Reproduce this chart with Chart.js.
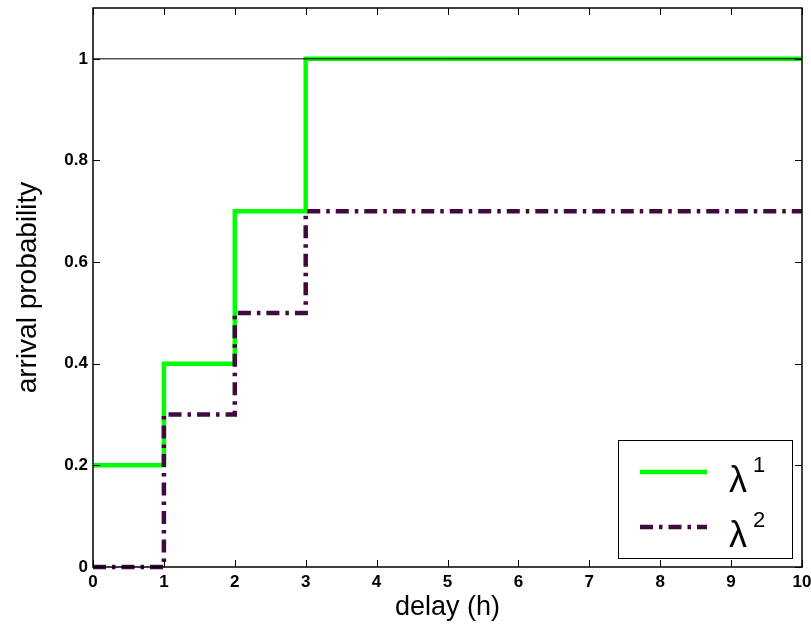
<!DOCTYPE html>
<html>
<head>
<meta charset="utf-8">
<script src="https://cdn.jsdelivr.net/npm/chart.js@4.4.1/dist/chart.umd.min.js"></script>
<style>
  html, body { margin: 0; padding: 0; background: #fff; }
  #wrap { width: 811px; height: 626px; }
</style>
</head>
<body>
<div id="wrap"><canvas id="c" width="811" height="626"></canvas></div>
<script>
// Delay (hours) at which each step starts
const delays = [0, 1, 2, 3, 10];
// Cumulative arrival probability for each rate
const lambda1 = [0.2, 0.4, 0.7, 1.0, 1.0];
const lambda2 = [0.0, 0.3, 0.5, 0.7, 0.7];
// Reference level at probability 1
const refDelays = [0, 10];
const refLevel = [1, 1];

const xTicks = [0, 1, 2, 3, 4, 5, 6, 7, 8, 9, 10];
const yTicks = [0, 0.2, 0.4, 0.6, 0.8, 1];
const yTickLabels = ['0', '0.2', '0.4', '0.6', '0.8', '1'];
const seriesNames = ['λ', 'λ'];
const seriesSup = ['1', '2'];

const GREEN = '#00ff00';
const PURPLE = '#400a40';
const DASHDOT = [13, 6, 3.5, 6];
const FONT = '"Liberation Sans", Arial, Helvetica, sans-serif';

const pts = (xs, ys) => xs.map((x, i) => ({ x: x, y: ys[i] }));

// Box with inward ticks on all four sides
const boxPlugin = {
  id: 'box',
  afterDatasetsDraw(chart) {
    const { ctx, chartArea: a, scales } = chart;
    ctx.save();
    ctx.strokeStyle = '#000';
    ctx.lineWidth = 1.5;
    ctx.strokeRect(a.left, a.top, a.right - a.left, a.bottom - a.top);
    ctx.lineWidth = 1;
    const L = 7;
    ctx.beginPath();
    xTicks.forEach(v => {
      const px = Math.round(scales.x.getPixelForValue(v)) + 0.5;
      ctx.moveTo(px, a.bottom); ctx.lineTo(px, a.bottom - L);
      ctx.moveTo(px, a.top); ctx.lineTo(px, a.top + L);
    });
    yTicks.forEach(v => {
      const py = Math.round(scales.y.getPixelForValue(v)) + 0.5;
      ctx.moveTo(a.left, py); ctx.lineTo(a.left + L, py);
      ctx.moveTo(a.right, py); ctx.lineTo(a.right - L, py);
    });
    ctx.stroke();
    ctx.restore();
  }
};

// Legend box in the lower right corner
const legendPlugin = {
  id: 'boxLegend',
  afterDraw(chart) {
    const { ctx } = chart;
    const bx = 618, by = 440, bw = 174, bh = 118;
    ctx.save();
    ctx.fillStyle = '#fff';
    ctx.fillRect(bx, by, bw, bh);
    ctx.strokeStyle = '#000';
    ctx.lineWidth = 1;
    ctx.strokeRect(bx + 0.5, by + 0.5, bw, bh);
    const rows = [472, 527];
    const ds = [chart.data.datasets[2], chart.data.datasets[1]];
    rows.forEach((y, i) => {
      ctx.beginPath();
      ctx.strokeStyle = ds[i].borderColor;
      ctx.lineWidth = ds[i].borderWidth;
      ctx.setLineDash(ds[i].borderDash || []);
      ctx.moveTo(640, y); ctx.lineTo(707, y);
      ctx.stroke();
      ctx.setLineDash([]);
      ctx.fillStyle = '#000';
      ctx.textBaseline = 'alphabetic';
      ctx.textAlign = 'left';
      ctx.font = '36px ' + FONT;
      ctx.fillText(seriesNames[i], 729, y + 20);
      ctx.font = '22px ' + FONT;
      ctx.fillText(seriesSup[i], 753, y);
    });
    ctx.restore();
  }
};

new Chart(document.getElementById('c'), {
  type: 'line',
  data: {
    datasets: [
      { label: 'ref', data: pts(refDelays, refLevel), borderColor: '#000', borderWidth: 1,
        pointRadius: 0, order: 0, clip: 6 },
      { label: 'λ2', data: pts(delays, lambda2), borderColor: PURPLE, borderWidth: 4.5,
        borderDash: DASHDOT, stepped: 'before', pointRadius: 0, order: 1, clip: 6,
        borderCapStyle: 'butt' },
      { label: 'λ1', data: pts(delays, lambda1), borderColor: GREEN, borderWidth: 4.5,
        stepped: 'before', pointRadius: 0, order: 2, clip: 6 }
    ]
  },
  options: {
    responsive: false,
    animation: false,
    layout: { padding: { top: 8, right: 9, left: 0, bottom: 0 } },
    plugins: { legend: { display: false }, tooltip: { enabled: false } },
    scales: {
      x: {
        type: 'linear', min: 0, max: 10,
        afterBuildTicks: s => { s.ticks = xTicks.map(v => ({ value: v })); },
        afterFit: s => { s.height = 59; s.paddingLeft = 0; s.paddingRight = 0; },
        grid: { display: false, drawTicks: false },
        border: { display: false },
        ticks: { color: '#000', padding: 5, maxRotation: 0,
          font: { family: FONT, size: 17, weight: 'bold' } },
        title: { display: true, text: 'delay (h)', color: '#000', padding: { top: 0, bottom: 2 },
          font: { family: FONT, size: 27 } }
      },
      y: {
        type: 'linear', min: 0, max: 1.1,
        afterBuildTicks: s => { s.ticks = yTicks.map(v => ({ value: v })); },
        afterFit: s => { s.width = 93; s.paddingTop = 0; s.paddingBottom = 0; },
        grid: { display: false, drawTicks: false },
        border: { display: false },
        ticks: { color: '#000', padding: 5,
          callback: (v, i) => yTickLabels[i],
          font: { family: FONT, size: 17, weight: 'bold' } },
        title: { display: true, text: 'arrival probability', color: '#000', padding: { top: 11, bottom: 0 },
          font: { family: FONT, size: 28 } }
      }
    }
  },
  plugins: [boxPlugin, legendPlugin]
});
</script>
</body>
</html>
